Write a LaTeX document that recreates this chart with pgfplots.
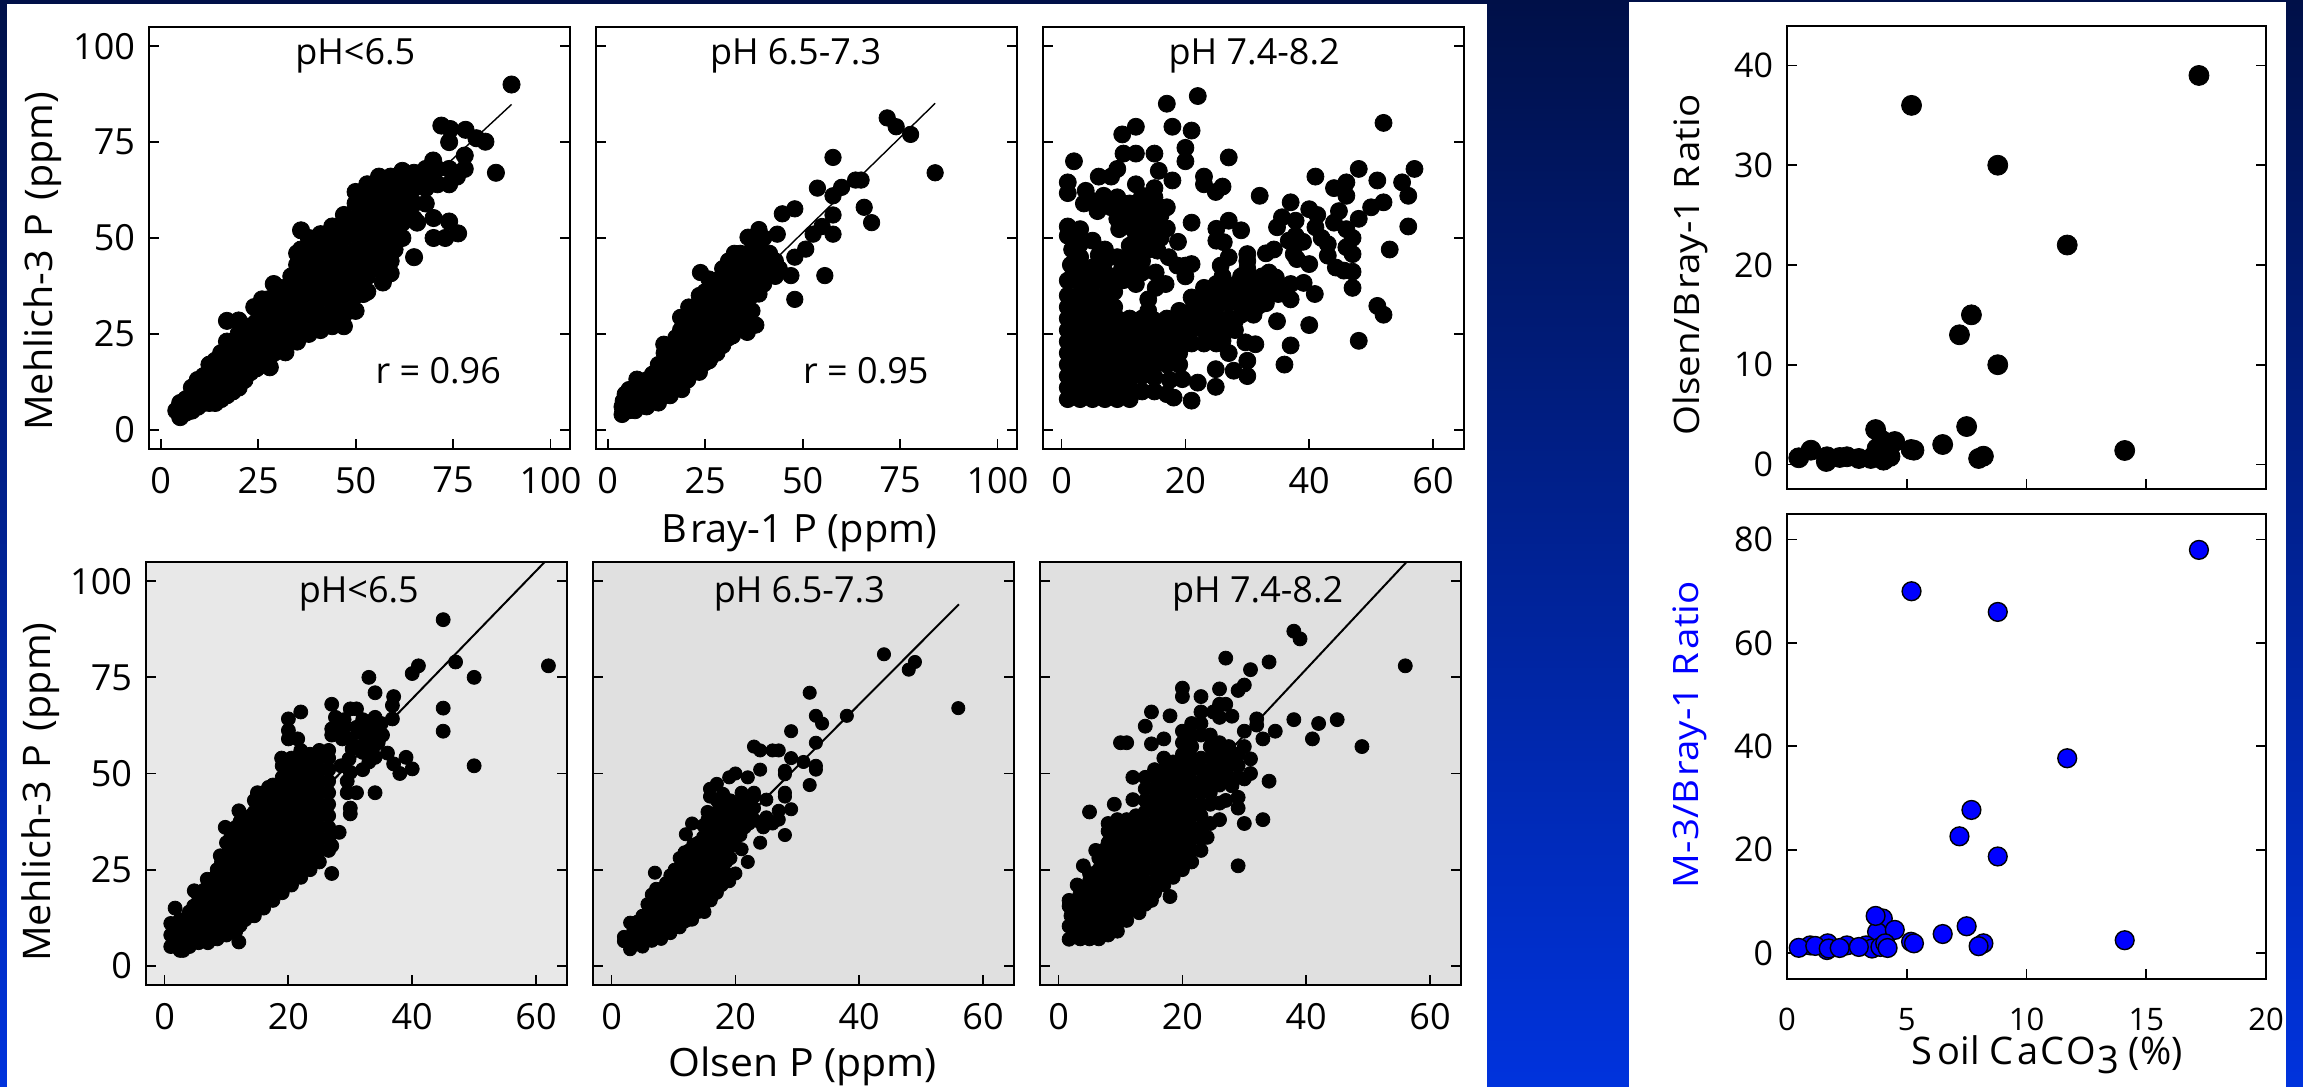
\documentclass[border=0pt]{standalone}
\usepackage{fontspec}
\setmainfont{Open Sans}
\usepackage{graphicx}
\usepackage{pgfplots}
\pgfplotsset{compat=1.18}
\newcommand\fs[1]{\fontsize{#1}{#1}\selectfont}
\definecolor{navy}{RGB}{0,16,72}
\definecolor{brightb}{RGB}{0,51,221}
\definecolor{pa}{RGB}{232,232,232}
\definecolor{pb}{RGB}{224,224,224}
\definecolor{pureblue}{RGB}{0,0,255}
\pgfplotsset{
 base/.style={scale only axis, anchor=south west, tick align=inside, xtick pos=bottom, ytick pos=both, yticklabel pos=left,
  major tick length=5pt, tick style={line width=.9pt,black}, axis line style={line width=1.2pt},
  /pgf/number format/assume math mode=true, /pgf/number format/1000 sep={},
  tick label style={font=\fs{18}},
  xticklabel style={yshift=-5.5pt}, yticklabel style={xshift=-3.5pt}},
 left/.style={base, width=210.5pt, height=211pt, ymin=-5, ymax=105, ytick={0,25,50,75,100}},
 x100/.style={xmin=-3, xmax=105, xtick={0,25,50,75,100}},
 x60/.style={xmin=-3, xmax=65, xtick={0,20,40,60}},
 nolab/.style={yticklabels={}},
 dots/.style={only marks, mark=*, mark size=#1, mark options={draw=none, fill=black}},
 fitline/.style={black, no marks, line width=#1},
 ylab/.style={ylabel style={at={(axis description cs:#1)}, anchor=center}},
 xlab/.style={xlabel style={at={(axis description cs:#1)}, anchor=center}},
}
\begin{document}
\begin{tikzpicture}
\useasboundingbox (0,0) rectangle (1151.5pt,543.5pt);
\shade[top color=navy, bottom color=brightb] (0,0) rectangle (1151.5pt,543.5pt);
\fill[white] (3.5pt,0) rectangle (743.5pt,541.5pt);
\fill[white] (814.5pt,0) rectangle (1143pt,542.5pt);

% ---------- top row, Bray-1 ----------
\begin{axis}[left, x100, at={(74.5pt,319pt)}, ylab={-0.252,0.445},
  ylabel={\fs{19}\scalebox{1.04}[1]{Mehlich-3\,\,P\,\,(ppm)}}]
\addplot[fitline=.7pt] coordinates {(10,9.4) (90,84.8)};
\addplot[dots=4.3pt] coordinates {
(90,90)(86,67)(72,79.3)(74.3,78.4)(74,75)(78.2,78.2)(81,76)(83.3,75.1)(78,71.5)(78,68)(69.9,70.2)
(65,45)(70,50)(73,50)(76.3,51.2)(74,54.3)(70,55.2)(65.8,54)(60,47)(57,38.4)(52,35.4)(59,40.8)
(17,28.4)(20,28.5)(29,38)(26,34)(24,32)(28,16.3)(32,20.2)(36,52)(36,47)
(4,5)(5,3.3)(6,5)(5,7)
(8,5)(8,9)(8,11)
(11,7)(11,11)(11,14)
(14,7)(14,11)(14,15)(14,18)
(17,9)(17,13)(17,17)(17,21)(17,23)
(20,11)(20,15)(20,19)(20,23)(20,25)
(23,15)(23,19)(23,23)(23,27)
(26,17)(26,21)(26,25)(26,29)
(29,20)(29,24)(29,28)(29,32)(29,34)
(32,22)(32,26)(32,30)(32,34)(32,37)
(35,23)(35,27)(35,31)(35,35)(35,39)(35,43)(35,46)
(38,25)(38,28)(38,32)(38,36)(38,40)(38,44)(38,48)(38,50)
(41,26)(41,30)(41,34)(41,38)(41,42)(41,46)(41,50)(41,51)
(44,27)(44,31)(44,35)(44,39)(44,43)(44,47)(44,51)(44,53)
(47,27)(47,30)(47,34)(47,38)(47,42)(47,46)(47,50)(47,54)(47,56)
(50,31)(50,35)(50,39)(50,43)(50,47)(50,51)(50,55)(50,59)(50,62)
(53,36)(53,40)(53,44)(53,48)(53,52)(53,56)(53,60)(53,64)
(56,42)(56,46)(56,50)(56,54)(56,58)(56,62)(56,66)
(59,44)(59,48)(59,52)(59,56)(59,60)(59,64)(59,66)
(62,50)(62,54)(62,58)(62,62)(62,66)(62,67.5)
(65,55)(65,59)(65,63)(65,67)
(68,59)(68,63)(68,66)(68,68)
(71,64)(71,68)
(74,64)(74,68)(76,66)
(6.5,4.5)(6.5,8)(9.5,6)(9.5,10)(9.5,13)(12.5,7)(12.5,10)(12.5,14)(12.5,17)(15.5,8)(15.5,12)(15.5,16)(15.5,20)
(18.5,10)(18.5,14)(18.5,18)(18.5,22)(21.5,13)(21.5,17)(21.5,21)(21.5,25)(24.5,16)(24.5,20)(24.5,24)(24.5,28)
(27.5,18)(27.5,22)(27.5,26)(27.5,30)(27.5,34)(30.5,21)(30.5,25)(30.5,29)(30.5,33)(30.5,37)
(33.5,24)(33.5,28)(33.5,32)(33.5,36)(33.5,40)(36.5,25)(36.5,29)(36.5,33)(36.5,37)(36.5,41)(36.5,45)
(39.5,28)(39.5,34)(39.5,38)(39.5,42)(39.5,46)(39.5,49)
};
\node[font=\fs{18},anchor=base] at (rel axis cs:.49,.9115) {pH<6.5};
\node[font=\fs{18},anchor=base] at (rel axis cs:.687,.155) {r = 0.96};
\end{axis}

\begin{axis}[left, x100, nolab, at={(298pt,319pt)}, xlab={0.483,-0.2},
  xlabel={\fs{19.5}\scalebox{1.02}[1]{B\kern1.5pt ray-1 P (ppm)}}]
\addplot[fitline=.7pt] coordinates {(20,21.6) (84,85.1)};
\addplot[dots=4.1pt] coordinates {
(84,67)(71.7,81.3)(74,79)(77.7,77)(57.8,71)(53.8,63)(60,63.2)(57.8,61)(63.6,65.1)(65,65.1)
(57.8,56)(65.8,58)(67.7,54)(57.8,51)(55,53)(52.7,51)(48,57.6)(44.8,56.3)(50.8,47.1)(55.7,40.2)
(48,34)(47,40.2)(48,45)(43.5,51)(38.8,52.2)(36,50.2)(31,44)(23.8,41)(26,39.3)(38.8,35.4)
(38,27.3)(35.8,25.4)(32,24.5)(42.6,40.2)(16,8.9)(22,15)(26,18)(7.5,13.2)(3.7,4)
(3.7,6)(4.5,9.3)(4,7.5)
(7,5)(7,8)(7,11)
(10,6)(10,9.5)(10,13)(10.5,7.5)
(13,7)(13,11)(13,15)(13,17)
(16,10)(16,14)(16,18)(16,21)(14.4,22.3)
(19,10.5)(19,14)(19,18)(19,22)(18.7,26)(18.7,29.3)
(22,17)(22,21)(22,25)(22,29)(20.8,32)
(25,17.5)(25,21)(25,25)(25,29)(25,33)(25,36)
(28,20)(28,24)(28,28)(28,32)(28,36)(28,39)
(31,24)(31,28)(31,32)(31,36)(31,40)
(34,27)(34,31)(34,35)(34,39)(34,43)(34,46)
(37,31)(37,35)(37,39)(37,43)(37,47)
(40,38)(40,42)(40,46)(40,50)
(43,40)(43,44)
(5.5,5)(5.5,8)(5.5,10.5)(8.5,7)(8.5,10)(8.5,12.5)(11.5,8)(11.5,11)(11.5,14.5)(14.5,9)(14.5,13)(14.5,17)(14.5,20)
(17.5,12)(17.5,16)(17.5,20)(17.5,24)(20.5,13)(20.5,16)(20.5,20)(20.5,24)(20.5,28)(23.5,15)(23.5,19)(23.5,23)(23.5,27)(23.5,31)(23.5,35)
(26.5,19)(26.5,23)(26.5,27)(26.5,31)(26.5,35)(26.5,38)(29.5,22)(29.5,26)(29.5,30)(29.5,34)(29.5,38)(29.5,42)
(32.5,26)(32.5,30)(32.5,34)(32.5,38)(32.5,42)(32.5,46)(35.5,29)(35.5,33)(35.5,37)(35.5,41)(35.5,45)
(38.5,37)(38.5,41)(38.5,45)(38.5,49)(41.5,42)(41.5,46)(44,42)
};
\node[font=\fs{18},anchor=base] at (rel axis cs:.474,.9115) {pH 6.5-7.3};
\node[font=\fs{18},anchor=base] at (rel axis cs:.641,.155) {r = 0.95};
\end{axis}

\begin{axis}[left, x60, nolab, at={(521.5pt,319pt)}]
\addplot[dots=4.25pt] coordinates {
(17,85)(22,87)(12,79)(9.8,77)(17.9,79)(21,78)(10,72)(12,72)(15,72)(20,73.5)(20,70)(2,70)(27,71)
(52,80)(57,68)(48,68)(41,66)(9,68)(8,66)(6,66)(15.7,67.5)(17.9,65)(23,66)(23,64)(26,63.4)(24.9,62)
(12,64)(15,63)(1,64.5)(1,61.7)(3.9,62.3)(6.8,61)(9,60.6)(3.6,59)(5.8,57)(7.6,59)(15,60.6)(17,58)
(11,59)(13,57.5)(32,61)(37,59.3)(44,63)(46,64.5)(51,65)(55,64.5)(56,61)(46,61)(52,59.3)(50,58)
(44.8,57)(44,54)(48,55)(56,53)(53,47)(40,57.5)(41.3,56)(41,52.8)(42,50)(43,48.4)(43,45.4)(44.3,42.3)
(46,52.3)(47,50)(46,47.6)(47,45.8)(47,41.2)(45.6,41.5)(47,37)(51,32.3)(52,30)(48,23.2)
(35.6,55.4)(37.8,54.5)(34.8,52.8)(37.8,50.6)(39,49)(36.7,49.3)(33,46)(34.3,47)(37.5,45.8)(38,44.5)
(40,43.2)(33.5,41)(32.4,40)(34.6,39.7)(37,38)(39.1,38.3)(36,35.8)(37,34)(40.9,35.4)(35,35.4)
(34.8,28.3)(40,27.3)(37,22)(36,17)(33,33)(31.9,32.4)(30,35.4)(30,45.8)(30,44)(29,40)(30,42)
(21,54)(18.8,49)(27,54.5)(29,52)(25,52.4)(25,49.3)(26.2,48.9)(27,45)(25.7,42.8)(26,40)
(21,43.2)(20,42.8)(18.7,42.8)(20,40)(17.3,45)(15.5,46.7)(15.2,41)(16.8,38)(15.2,37)(14,34)(14,31)
(12,38)(13,41)(16,50)(15.5,53.6)(14.6,58)(12,56.3)(9.3,52.3)(12,51)(12,47.6)(13,54)(10.5,55)
(1,53)(1,50.6)(3,52.3)(5,49.3)(7,47)(1.7,47)(3,45)(5,42.3)(9,45)(9.8,42.3)(2,41)(1,38.9)
(3,38)(5,38)(7,39)(8.5,40)(10,39)
(1,35)(3,35)(5,35)(7,35)(8.5,36)(1,32)(3,32)(5,32)(7,32)(8.5,32)
(1,8)(3,8)(5,8)(7,8)(9,8)(11,8)
(1,11)(3,11)(5,11)(7,11)(9,11)(11,11)(13,10)
(1,14)(3,14)(5,14)(7,14)(9,14)(11,14)(13,14)(15,13.7)
(1,17)(3,17)(5,17)(7,17)(9,17)(11,17)(13,17)(15,17)(17,17)(19,17)
(1,20)(3,20)(5,20)(7,20)(9,20)(11,20)(13,20)(15,20)(17,20)(19,20)
(1,23)(3,23)(5,23)(7,23)(9,23)(11,23)(13,23)(15,23)(17,23)(19,23)(21,22.5)(23,22.5)(25,22.5)
(1,26)(3,26)(5,26)(7,26)(9,26)(11,26)(13,26)(15,26)(17,26)(19,26)(21,26)(23,26)(25,26)
(1,29)(3,29)(5,29)(7,29)(9,29)(11,29)(13,29)(15,28.5)(17,29)(19,29)(21,29)(23,29)(25,29)(27,29)(28,28.4)
(4,9.5)(8,9.5)(6,12.5)(10,12.5)(2,15.5)(6,15.5)(10,15.5)(14,15.5)(4,18.5)(8,18.5)(12,18.5)(16,18.5)
(2,21.5)(6,21.5)(10,21.5)(14,21.5)(18,21.5)(4,24.5)(8,24.5)(12,24.5)(16,24.5)(20,24.5)(24,24.5)
(2,27.5)(6,27.5)(10,27.5)(14,27.5)(18,27.5)(22,27.5)(26,27.5)(4,30.5)(8,30.5)
(17,9.3)(18.1,8.4)(21,7.6)(19.5,13.2)(22,12.3)(24.9,11.2)(24.9,15.8)(27.8,15.4)(30,14)(30,18)(29.7,22.8)
(31.3,22.3)(27,20)(26,23.2)(15,10)(17.5,13)
(21,34.5)(23.3,34.5)(25.4,36)(27.6,37.6)(29.6,36.5)(29,33)(31.3,35.4)(23,31)(25,32)(27,33)(29,30)(31,30)
(21,31)(19,31)
(4.5,60)(6,59.5)(8,58)(10,57)(9,55)(11,53)(13,52)(14,55)(16,56)(12,59)(13,61)(10,59)(15,50)(14,47)(17,52.5)
(13.5,49)(11,48)(11,44.5)(13,44)(12,41)(10.5,41)(7,44)(6,45.5)(3,48.5)(2,49.5)(1.5,43)(3,41)(5,39.5)(7,41)
(22,33)(24,35)(26,34)(28,36)(30,33)(32,36)(34,38)(33,35)(29,38)(27,35)(31,38.5)(35,37.5)(25,38)(23,37)(28,26)(26,26)
};
\node[font=\fs{18},anchor=base] at (rel axis cs:.5016,.9115) {pH 7.4-8.2};
\end{axis}

% ---------- bottom row, Olsen ----------
\begin{axis}[left, x60, at={(73pt,51pt)}, height=211.5pt, axis background/.style={fill=pa}, ylab={-0.25,0.456},
  ylabel={\fs{19}\scalebox{1.04}[1]{Mehlich-3\,\,P\,\,(ppm)}}]
\addplot[fitline=1pt] coordinates {(15,27.9) (62,106)};
\addplot[dots=3.5pt] coordinates {
(45,90)(62,78)(47,79)(41,78)(40,76)(50,75)(45,67)(45,61)(50,52)(33,75)(34,71)(37,70)(36.8,67.7)(36.8,64.2)
(27,68)(22,66)(20,64.2)(20,61.2)(20,59)(18.9,54)(21.5,59)(34,45)(27,24)(12,6.2)(30,39.5)(30,41)(31,45)(29.5,45)
(29.5,48)(30,50.3)(32,51)(34,54.2)(36,55.3)(37,52.5)(39,54.2)(38,50)(40,51.2)(28.2,34.7)(27,31.2)
(30,66.8)(31,66.8)(34,64.6)(32,64)(29,64)(27.6,64.6)(27,61.6)(27,60)(28.7,59)(31.4,60.7)(35.2,60)(33.6,62)
(32.5,58)(30.3,56.4)(32,55.5)(33.6,56.4)(29.8,53.8)(29,62)(31,62)(33,60)(30,59)(28,62)(32,61)(35,63)
(28.5,52)(31,57)(33,53)(34.5,58)
(9.8,36)(12,40.3)(13.9,39)(15,45)(16.8,46.4)(4.8,19.5)(1.7,15)(6.9,22.5)(9,28.6)
(1,5)(1,8)(1,11)
(2.5,4)(2.5,7)(2.5,10)(2.5,12)
(4,5)(4,8)(4,11)(4,14)(3,4)
(5.5,6)(5.5,9)(5.5,12)(5.5,15)(5.5,18)
(7,6)(7,9)(7,12)(7,15)(7,18)(7,21)
(8.5,7)(8.5,10)(8.5,13)(8.5,16)(8.5,19)(8.5,22)(8.5,25)
(10,8)(10,11)(10,14)(10,17)(10,20)(10,23)(10,26)(10,29)(10,32)
(11.5,9)(11.5,12)(11.5,15)(11.5,18)(11.5,21)(11.5,24)(11.5,27)(11.5,30)(11.5,33)(11.5,36)
(13,12)(13,15)(13,18)(13,21)(13,24)(13,27)(13,30)(13,33)(13,36)
(14.5,13)(14.5,16)(14.5,19)(14.5,22)(14.5,25)(14.5,28)(14.5,31)(14.5,34)(14.5,37)(14.5,40)(14.5,43)
(16,15)(16,18)(16,21)(16,24)(16,27)(16,30)(16,33)(16,36)(16,39)(16,42)(16,45)
(17.5,17)(17.5,20)(17.5,23)(17.5,26)(17.5,29)(17.5,32)(17.5,35)(17.5,38)(17.5,41)(17.5,44)(17.5,47)
(19,19)(19,22)(19,25)(19,28)(19,31)(19,34)(19,37)(19,40)(19,43)(19,46)(19,49)(19,52)
(20.5,21)(20.5,24)(20.5,27)(20.5,30)(20.5,33)(20.5,36)(20.5,39)(20.5,42)(20.5,45)(20.5,48)(20.5,51)(20.5,54)
(22,23)(22,26)(22,29)(22,32)(22,35)(22,38)(22,41)(22,44)(22,47)(22,50)(22,53)(22,56)
(23.5,25)(23.5,28)(23.5,31)(23.5,34)(23.5,37)(23.5,40)(23.5,43)(23.5,46)(23.5,49)(23.5,52)(23.5,55)
(25,27)(25,30)(25,33)(25,36)(25,39)(25,42)(25,45)(25,48)(25,51)(25,54)(25,56)
(26.5,30)(26.5,33)(26.5,36)(26.5,39)(26.5,42)(26.5,45)(26.5,48)(26.5,51)(26.5,54)(26.5,56)
(2,5.5)(2,8.5)(3.2,5.5)(3.2,9)(3.2,12)(4.7,6.5)(4.7,9.5)(4.7,12.5)(4.7,15.5)(6.2,7.5)(6.2,10.5)(6.2,13.5)(6.2,16.5)(6.2,19.5)
(7.7,7.5)(7.7,10.5)(7.7,13.5)(7.7,16.5)(7.7,19.5)(7.7,22.5)(9.2,9)(9.2,12)(9.2,15)(9.2,18)(9.2,21)(9.2,24)(9.2,27)
(10.7,9.5)(10.7,12.5)(10.7,15.5)(10.7,18.5)(10.7,21.5)(10.7,24.5)(10.7,27.5)(10.7,30.5)(10.7,33.5)
(12.2,10.5)(12.2,13.5)(12.2,16.5)(12.2,19.5)(12.2,22.5)(12.2,25.5)(12.2,28.5)(12.2,31.5)(12.2,34.5)(12.2,37.5)
};
\node[font=\fs{18},anchor=base] at (rel axis cs:.5055,.905) {pH<6.5};
\end{axis}

\begin{axis}[left, x60, nolab, at={(296.5pt,51pt)}, height=211.5pt, axis background/.style={fill=pb}, xlab={0.498,-0.192},
  xlabel={\fs{19.5}\scalebox{1.05}[1]{Olsen P (ppm)}}]
\addplot[fitline=1pt] coordinates {(10,19.5) (56.1,94)};
\addplot[dots=3.3pt] coordinates {
(56,67)(44,81)(49,79)(48,77)(32,71)(33,65)(34,63)(38,65)(29,61)(33,58)(23,57)(24,56)(26,56)(27,56)(29,54)
(31,53)(33,52)(33,51)(32,47)(28,50.7)(28,49.8)(24,51)(20,50)(19,49)(22,49)(28,45)(28,44)(17,47.3)(15.9,46)
(15.9,44)(18,44.7)(21,45)(23,45)(25,43.2)(29,40.7)(27,40.3)(27,38)(24,37.3)(25,38.6)(28,34)(24,32)(21,30.3)
(22,27)(20,24)(19,22)(13,37)(12,34.2)(7,24.2)(16,17)(15,14)(13,12)(3,11.2)(3,4.3)(2,6.4)(5,5)(8,7)
(2,7.5)(3.5,6)(3.5,9)(5,7)(5,10)(5,13)
(6.5,6.5)(6.5,9.5)(6.5,12.5)(6.5,15.5)(6.5,18.5)
(8,8)(8,11)(8,14)(8,17)(8,20)
(9.5,8.5)(9.5,11.5)(9.5,14.5)(9.5,17.5)(9.5,20.5)(9.5,23.5)
(11,10)(11,13)(11,16)(11,19)(11,22)(11,25)(11,28)
(12.5,12)(12.5,15)(12.5,18)(12.5,21)(12.5,24)(12.5,27)(12.5,30)
(14,14)(14,17)(14,20)(14,23)(14,26)(14,29)(14,32)
(15.5,17)(15.5,20)(15.5,23)(15.5,26)(15.5,29)(15.5,32)(15.5,35)(15.5,38)(15.5,40)
(17,19)(17,22)(17,25)(17,28)(17,31)(17,34)(17,37)(17,40)(17,43)
(18.5,24)(18.5,27)(18.5,30)(18.5,33)(18.5,36)(18.5,39)(18.5,42)
(20,33)(20,36)(20,39)(20,42)
(21.5,36)(21.5,39)(21.5,42)
(23,38)(23,41)(23,44)
(24.5,36)(26,37)
(4.2,6)(4.2,9)(4.2,11.5)(5.8,7)(5.8,10)(5.8,13)(5.8,16)(7.2,8)(7.2,11)(7.2,14)(7.2,17)(7.2,20)
(8.8,9.5)(8.8,12.5)(8.8,15.5)(8.8,18.5)(8.8,21.5)(10.2,10)(10.2,13)(10.2,16)(10.2,19)(10.2,22)(10.2,25)
(11.8,11.5)(11.8,14.5)(11.8,17.5)(11.8,20.5)(11.8,23.5)(11.8,26.5)(11.8,29.5)
(13.2,13.5)(13.2,16.5)(13.2,19.5)(13.2,22.5)(13.2,25.5)(13.2,28.5)(13.2,31.5)
(14.8,15.5)(14.8,18.5)(14.8,21.5)(14.8,24.5)(14.8,27.5)(14.8,30.5)(14.8,33.5)(14.8,36.5)
(16.2,18)(16.2,21)(16.2,24)(16.2,27)(16.2,30)(16.2,33)(16.2,36)(16.2,39)
(17.8,21)(17.8,24)(17.8,27)(17.8,30)(17.8,33)(17.8,36)(17.8,39)(17.8,42)
(19.2,28)(19.2,31)(19.2,34)(19.2,37)(19.2,40)(19.2,43)(20.8,34)(20.8,38)(20.8,41)(22.2,37)(22.2,40)(22.2,43)
};
\node[font=\fs{18},anchor=base] at (rel axis cs:.49,.905) {pH 6.5-7.3};
\end{axis}

\begin{axis}[left, x60, nolab, at={(520pt,51pt)}, height=211.5pt, axis background/.style={fill=pb}]
\addplot[fitline=1pt] coordinates {(12,29) (56.2,105)};
\addplot[dots=3.5pt] coordinates {
(56,78)(38,87)(39,85)(34,79)(27,80)(31,77)(30,73)(29,71.6)(26,72)(20,72.2)(20,70)(23,70)(26,68)(27,68)(25,66)
(26,64.6)(28,64.9)(15,66)(18,65)(14,62.3)(32,64.2)(32,62.6)(38,64)(42,63)(45,64)(35,61)(33,59)(41,59)(49,57)
(30,61)(10,58)(11,58)(15,57.7)(17,59)(34,48)(31,53.8)(31,50)(30,48.6)(28,46.8)(29,43.8)(29,41)(27,43)(26,42.3)
(26,38)(30,37)(33,38)(24,33.4)(29,26)(18,18)(15,17)(13,13.8)(11,11.8)(9,42)(5,40)(12,43.2)(12,49)(4,26)(3,21)
(1.7,17)(1.7,15.5)(1.7,10.3)(1.7,6.9)
(2,13)(3.5,7)(3.5,10)(3.5,13)(3.5,16)(3.5,19)
(5,7)(5,10)(5,13)(5,16)(5,19)(5,22)(5,24)
(6.5,7)(6.5,10)(6.5,13)(6.5,16)(6.5,19)(6.5,22)(6.5,25)(6.5,28)(6,30)
(8,8)(8,11)(8,14)(8,17)(8,20)(8,23)(8,26)(8,29)(8,32)(8,35)(8,37)
(9.5,9)(9.5,12)(9.5,15)(9.5,18)(9.5,21)(9.5,24)(9.5,27)(9.5,30)(9.5,33)(9.5,36)(9.5,38)
(11,14)(11,17)(11,20)(11,23)(11,26)(11,29)(11,32)(11,35)(11,38)
(12.5,15)(12.5,18)(12.5,21)(12.5,24)(12.5,27)(12.5,30)(12.5,33)(12.5,36)(12.5,39)
(14,16)(14,19)(14,22)(14,25)(14,28)(14,31)(14,34)(14,37)(14,40)(14,43)(14,46)(14,49)
(15.5,19)(15.5,22)(15.5,25)(15.5,28)(15.5,31)(15.5,34)(15.5,37)(15.5,40)(15.5,43)(15.5,46)(15.5,49)(15.5,51)
(17,21)(17,24)(17,27)(17,30)(17,33)(17,36)(17,39)(17,42)(17,45)(17,48)(17,51)(17,54)
(18.5,23)(18.5,26)(18.5,29)(18.5,32)(18.5,35)(18.5,38)(18.5,41)(18.5,44)(18.5,47)(18.5,50)(18.5,53)
(20,25)(20,28)(20,31)(20,34)(20,37)(20,40)(20,43)(20,46)(20,49)(20,52)(20,55)(20,58)(20,61)
(21.5,27)(21.5,30)(21.5,33)(21.5,36)(21.5,39)(21.5,42)(21.5,45)(21.5,48)(21.5,51)(21.5,54)(21.5,57)(21.5,60)(21.5,63)
(23,30)(23,33)(23,36)(23,39)(23,42)(23,45)(23,48)(23,51)(23,54)(23,60)(23,63)(23,66)
(24.5,37)(24.5,42)(24.5,45)(24.5,48)(24.5,51)(24.5,54)(24.5,57)(24.5,60)
(26,47)(26,50)(26,53)(26,56)(26,58)
(27.5,49)(27.5,52)(27.5,55)(27.5,57)
(29,49)(29,52)(29,55)(30,57)
(2.7,8)(2.7,11)(2.7,14)(2.7,17)(4.2,8.5)(4.2,11.5)(4.2,14.5)(4.2,17.5)(4.2,20.5)(5.8,8.5)(5.8,11.5)(5.8,14.5)(5.8,17.5)(5.8,20.5)(5.8,23.5)
(7.2,9)(7.2,12)(7.2,15)(7.2,18)(7.2,21)(7.2,24)(7.2,27)(7.2,30)(10.8,13)
};
\node[font=\fs{18},anchor=base] at (rel axis cs:.517,.905) {pH 7.4-8.2};
\end{axis}

% ---------- right column, CaCO3 ----------
\begin{axis}[base, width=239.5pt, height=231.9pt, at={(893.5pt,298.8pt)}, xmin=0, xmax=20, ymin=-2.5, ymax=44,
  xtick={0,5,10,15,20}, xticklabels={}, ytick={0,10,20,30,40}, tick label style={font=\fs{17}}, axis line style={line width=1pt},
  ylab={-0.202,0.484}, ylabel={\fs{17.5}\scalebox{1.1}[1]{Olsen/B\kern1.5pt ray-1 R\kern1.5pt atio}}]
\addplot[dots=5pt] coordinates {
(17.2,39)(5.2,36)(8.8,30)(11.7,22)(7.7,15)(7.2,13)(8.8,10)(7.5,3.8)(14.1,1.4)(6.5,2)(5.3,1.43)(5.18,1.5)(8.2,.83)(8,.6)
(.49,.67)(1,1.43)(1.67,.77)(1.64,.3)(2.2,.7)(2.5,.77)(3,.6)(3.5,.6)(4.03,.43)(3.7,3.5)(3.97,2.4)(4.5,2.3)(3.76,1.6)(4.2,1.1)(4.3,.8)(3.9,1.1)
};
\end{axis}

\begin{axis}[base, width=239.5pt, height=232.65pt, at={(893.5pt,54pt)}, xmin=0, xmax=20, ymin=-5, ymax=85,
  xtick={0,5,10,15,20}, ytick={0,20,40,60,80}, tick label style={font=\fs{17}}, xticklabel style={font=\fs{15.5},yshift=-5.5pt}, axis line style={line width=1pt},
  ylab={-0.202,0.525}, ylabel={\fs{17.5}\color{pureblue}\scalebox{1.1}[1]{M-3/B\kern1.5pt ray-1 R\kern1.5pt atio}},
  xlab={0.543,-0.162}, xlabel={\fs{19}S\kern2.5pt oil C\kern2pt a\kern1pt C\kern1pt O\kern.5pt\raisebox{-.45ex}{3} (\%)}]
\addplot[only marks, mark=*, mark size=4.7pt, mark options={draw=black, line width=.7pt, fill=pureblue}] coordinates {
(1.7,1.9)(4,6.7)(3.76,4.1)(4.5,4.5)(3.3,1.5)(2.5,1.5)(1.67,.6)(.97,1.5)(3.55,.9)(3.9,1.2)(4.1,1.9)(3.7,7.2)(5.18,2.2)(8.2,1.9)
(.49,1.03)(1.18,1.4)(1.74,.9)(2.2,1)(3,1.2)(4.2,1)(5.3,1.9)(6.5,3.7)(7.5,5.2)(8,1.35)
(17.2,78)(5.2,70)(8.8,66)(11.7,37.7)(7.7,27.7)(7.2,22.6)(8.8,18.7)(14.1,2.5)
};
\end{axis}
\end{tikzpicture}
\end{document}
